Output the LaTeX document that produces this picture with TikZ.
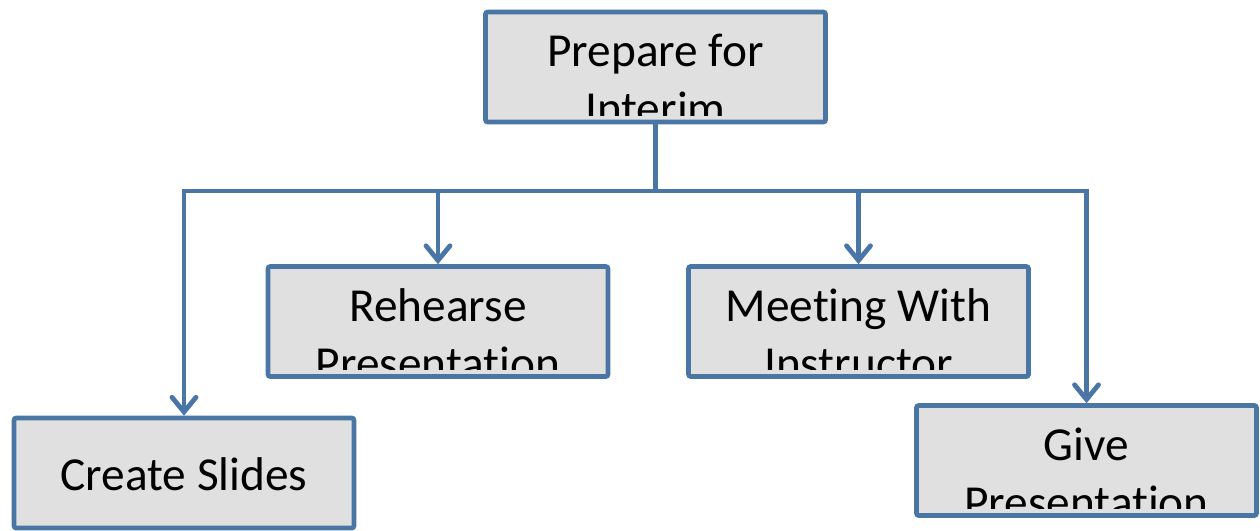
\documentclass[tikz,border=0pt]{standalone}
\usepackage{fontspec}
\setmainfont{Carlito}[RawFeature={-liga}]
\usetikzlibrary{arrows.meta}
\definecolor{edge}{RGB}{74,118,166}
\definecolor{boxfill}{RGB}{224,224,224}
\begin{document}
\begin{tikzpicture}[x=0.75pt,y=-0.75pt,
  taskbox/.style={draw=edge,fill=boxfill,line width=3.4pt,minimum width=255pt,
    minimum height=82.5pt,rounded corners=1.5pt,inner sep=0pt},
  tasktext/.style={anchor=base,inner sep=0pt,font=\fontsize{35.5}{42}\selectfont},
  link/.style={draw=edge,line width=3.6pt},
  arrowlink/.style={link,-{Straight Barb[length=11pt,width=18pt,line cap=round]}}]
\useasboundingbox (0,0) rectangle (1260,531);

% task boxes
\node[taskbox] (prep) at (655.5,67) {};
\node[taskbox] (rehearse) at (438,321.5) {};
\node[taskbox] (meet) at (858.5,321.5) {};
\node[taskbox] (slides) at (184,473) {};
\node[taskbox] (give) at (1086.5,460.5) {};

% labels; two-line labels are cut off at the lower edge of their box
\begin{scope}
  \clip (prep.north west) rectangle ([yshift=6.75pt]prep.south east);
  \node[tasktext] (prep1) at (prep.center) {Prepare for};
  \node[tasktext] (prep2) at ([yshift=-43.5pt]prep.center) {Interim};
\end{scope}
\begin{scope}
  \clip (rehearse.north west) rectangle ([yshift=6.75pt]rehearse.south east);
  \node[tasktext] (rehearse1) at (rehearse.center) {Rehearse};
  \node[tasktext] (rehearse2) at ([yshift=-43.5pt]rehearse.center) {Presentation};
\end{scope}
\begin{scope}
  \clip (meet.north west) rectangle ([yshift=6.75pt]meet.south east);
  \node[tasktext] (meet1) at (meet.center) {Meeting With};
  \node[tasktext] (meet2) at ([yshift=-43.5pt]meet.center) {Instructor};
\end{scope}
\begin{scope}
  \clip (give.north west) rectangle ([yshift=6.75pt]give.south east);
  \node[tasktext] (give1) at (give.center) {Give};
  \node[tasktext] (give2) at ([yshift=-43.5pt]give.center) {Presentation};
\end{scope}
\node[tasktext] (slides1) at ([yshift=-12.75pt]slides.center) {Create Slides};

% connectors
\coordinate (bus) at (655.5,191);
\draw[link] (prep.south) -- (bus);
\draw[arrowlink] (bus) -| (slides.north);
\draw[arrowlink] (bus) -| (give.north);
\draw[arrowlink] (rehearse.north |- bus) -- (rehearse.north);
\draw[arrowlink] (meet.north |- bus) -- (meet.north);
\end{tikzpicture}
\end{document}
